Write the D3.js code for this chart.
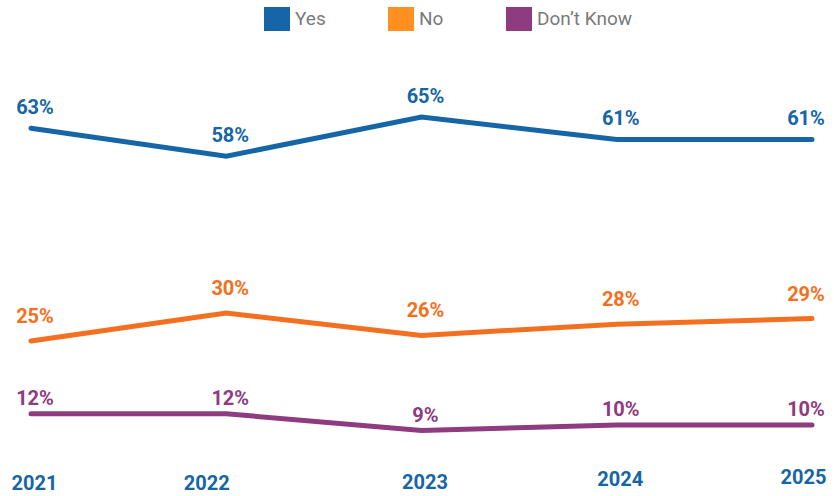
<!DOCTYPE html>
<html>
<head>
<meta charset="utf-8">
<script src="https://d3js.org/d3.v7.min.js"></script>
<style>
	body { margin: 0; background: #fff; }
	svg { display: block; font-family: Roboto, "Noto Sans", sans-serif; }
	.line { fill: none; stroke-width: 5px; stroke-linecap: round; stroke-linejoin: miter; }
	.val { font-weight: 700; font-size: 20px; text-anchor: middle; }
	.legend text { fill: #7a7a7a; font-size: 19px; }
	.x-axis text { fill: #1565a7; font-weight: 700; font-size: 20px; font-family: Roboto, sans-serif; }
</style>
</head>
<body>
<svg id="chart" width="834" height="496"></svg>
<script>
	// data
	var years = ["2021", "2022", "2023", "2024", "2025"];
	var yesValues = [63, 58, 65, 61, 61];
	var noValues = [25, 30, 26, 28, 29];
	var dontKnowValues = [12, 12, 9, 10, 10];
	var seriesNames = ["Yes", "No", "Don\u2019t Know"];

	var series = [
		{name: seriesNames[0], values: yesValues, color: "#1565a7", swatch: "#1565a7", dy: -14},
		{name: seriesNames[1], values: noValues, color: "#f37021", swatch: "#ff8f1f", dy: -18},
		{name: seriesNames[2], values: dontKnowValues, color: "#8e3b80", swatch: "#8e3b80", dy: -9}
	];

	var svg = d3.select("#chart");

	var x = d3.scalePoint()
		.domain(years)
		.range([31, 812]);

	var y = d3.scaleLinear()
		.domain([0, 65])
		.range([481, 117]);

	var line = d3.line()
		.x(function(d, i) { return x(years[i]); })
		.y(function(d) { return y(d); });

	// year labels along the bottom, slightly staggered like the original
	var xAxis = svg.append("g")
		.attr("class", "x-axis")
		.attr("transform", "translate(0,473)")
		.call(d3.axisBottom(x).tickSize(0).tickPadding(0));
	xAxis.select(".domain").remove();
	xAxis.selectAll("text")
		.attr("dy", 0)
		.attr("y", function(d, i) { return [17, 17, 16, 13, 11][i]; })
		.attr("x", function(d, i) { return i === years.length - 1 ? -9 : (i === 1 ? -20 : 3); });

	series.forEach(function(s) {
		svg.append("path")
			.datum(s.values)
			.attr("class", "line")
			.attr("stroke", s.color)
			.attr("d", line);

		svg.selectAll(null)
			.data(s.values)
			.enter().append("text")
			.attr("class", "val")
			.attr("fill", s.color)
			.attr("x", function(d, i) { return Math.min(x(years[i]) + 4, 806); })
			.attr("y", function(d) { return y(d) + s.dy; })
			.text(function(d) { return d + "%"; });
	});

	// legend
	var legendX = [264, 388, 506];
	var legend = svg.append("g").attr("class", "legend");
	series.forEach(function(s, i) {
		var g = legend.append("g").attr("transform", "translate(" + legendX[i] + ",7)");
		g.append("rect")
			.attr("width", 26)
			.attr("height", 24)
			.attr("fill", s.swatch);
		g.append("text")
			.attr("x", 31)
			.attr("y", 18)
			.text(s.name);
	});
</script>
</body>
</html>
